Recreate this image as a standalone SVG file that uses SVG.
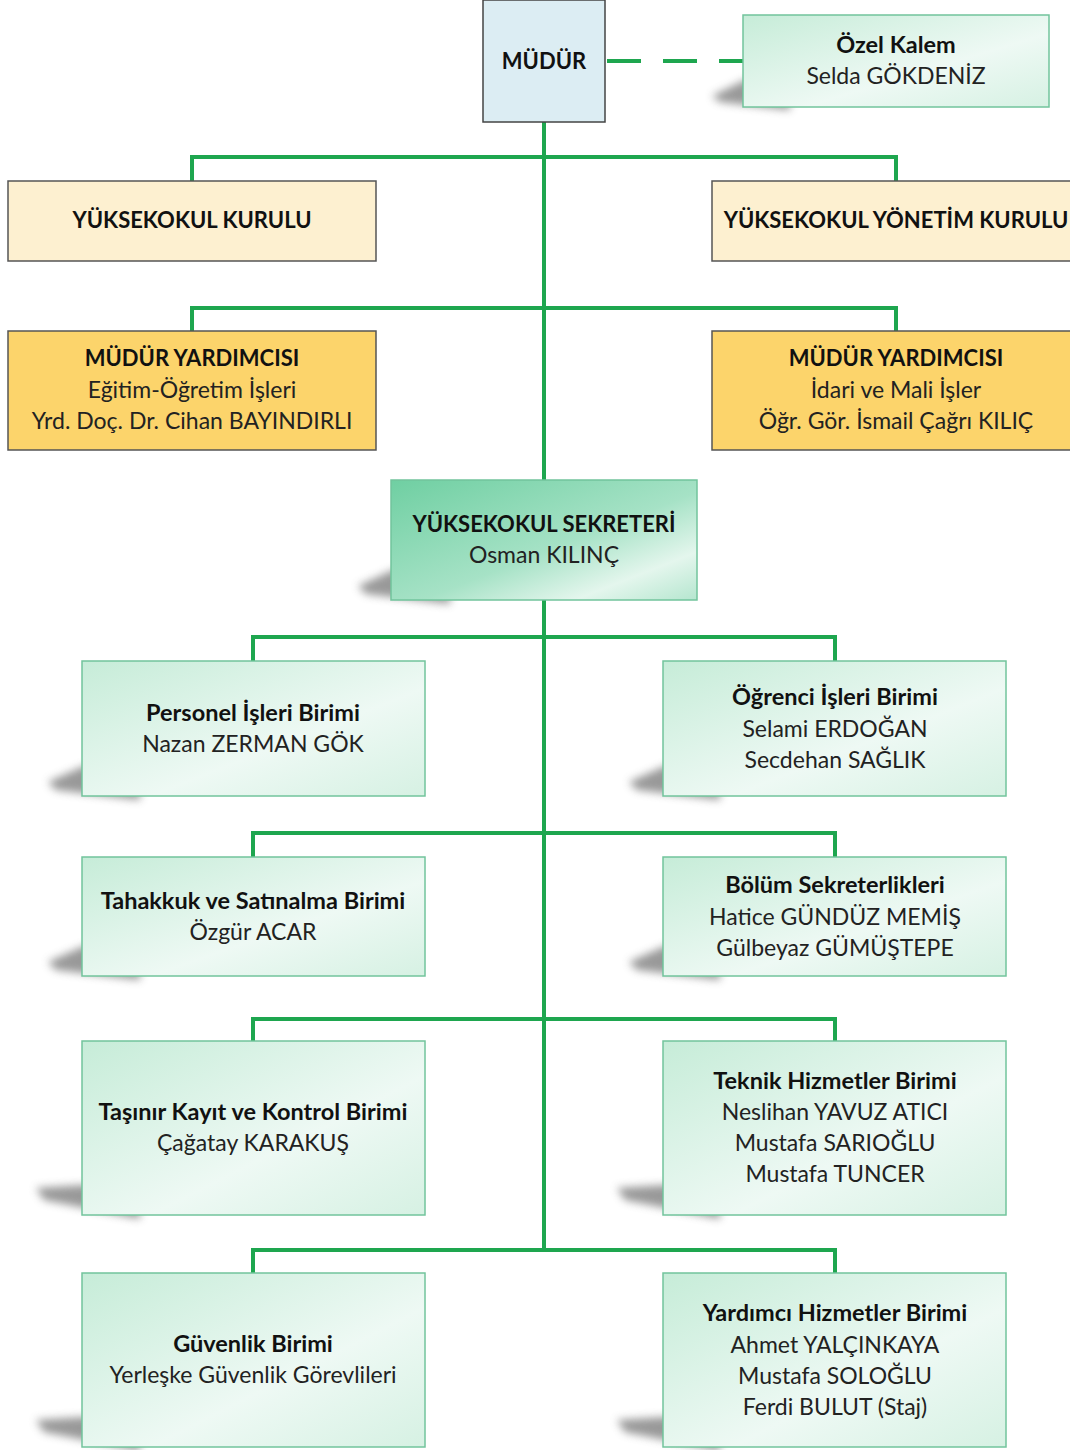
<svg xmlns="http://www.w3.org/2000/svg" width="1070" height="1450" viewBox="0 0 1070 1450">
<defs>
<linearGradient id="gl" x1="0" y1="0" x2="1" y2="1">
<stop offset="0" stop-color="#c6ecd8"/>
<stop offset="0.6" stop-color="#eef9f4"/>
<stop offset="1" stop-color="#d6f1e3"/>
</linearGradient>
<linearGradient id="gs" x1="0" y1="0" x2="1" y2="1">
<stop offset="0" stop-color="#6fcfa2"/>
<stop offset="0.55" stop-color="#a6e2c6"/>
<stop offset="0.8" stop-color="#e4f6ed"/>
<stop offset="1" stop-color="#b5e6cf"/>
</linearGradient>
<filter id="blur" x="-50%" y="-50%" width="200%" height="200%">
<feGaussianBlur stdDeviation="4"/>
</filter>
<style>
.t{font-family:"Lato","Open Sans","Liberation Sans",sans-serif;font-size:23px;fill:#222;text-anchor:middle}
.b{font-weight:bold;fill:#111;font-size:23.5px}
.k{font-weight:bold;fill:#111;font-size:22px}
.g{fill:url(#gl);stroke:#72c49c;stroke-width:1.5}
.s{fill:url(#gs);stroke:#72c49c;stroke-width:1.5}
.y1{fill:#fdf0d0;stroke:#555;stroke-width:1.5}
.y2{fill:#fcd46b;stroke:#555;stroke-width:1.5}
.sh{fill:#777;opacity:0.75;filter:url(#blur)}
.c{fill:none;stroke:#1ea64f;stroke-width:4}
</style>
</defs>
<g id="connectors">
<path class="c" d="M544 122V1250"/>
<path class="c" d="M192 181V157H896V181"/>
<path class="c" d="M192 331V308H896V331"/>
<path class="c" d="M253 661V637H835V661"/>
<path class="c" d="M253 857V833H835V857"/>
<path class="c" d="M253 1041V1019H835V1041"/>
<path class="c" d="M253 1273V1250H835V1273"/>
<path class="c" d="M605 61H743" stroke-dasharray="34,22" stroke-dashoffset="-2"/>
</g>
<g id="n-mudur">
<rect x="483" y="0" width="122" height="122" fill="#dcedf3" stroke="#444" stroke-width="1.5"/>
<text class="t k" x="544" y="69">MÜDÜR</text>
</g>
<g id="n-ozel">
<polygon class="sh" points="790,80 745,80 712,96 720,102 790,110"/>
<rect class="g" x="743" y="15" width="306" height="92"/>
<text class="t b" x="896" y="53">Özel Kalem</text>
<text class="t" x="896" y="84">Selda GÖKDENİZ</text>
</g>
<g id="n-kurul">
<rect class="y1" x="8" y="181" width="368" height="80"/>
<text class="t k" x="192" y="228">YÜKSEKOKUL KURULU</text>
</g>
<g id="n-yonetim">
<rect class="y1" x="712" y="181" width="366" height="80"/>
<text class="t k" x="896" y="228">YÜKSEKOKUL YÖNETİM KURULU</text>
</g>
<g id="n-my1">
<rect class="y2" x="8" y="331" width="368" height="119"/>
<text class="t k" x="192" y="366">MÜDÜR YARDIMCISI</text>
<text class="t" x="192" y="398">Eğitim-Öğretim İşleri</text>
<text class="t" x="192" y="429">Yrd. Doç. Dr. Cihan BAYINDIRLI</text>
</g>
<g id="n-my2">
<rect class="y2" x="712" y="331" width="366" height="119"/>
<text class="t k" x="896" y="366">MÜDÜR YARDIMCISI</text>
<text class="t" x="896" y="398">İdari ve Mali İşler</text>
<text class="t" x="896" y="429">Öğr. Gör. İsmail Çağrı KILIÇ</text>
</g>
<g id="n-sekreter">
<polygon class="sh" points="450,570 393,570 358,586 366,594 450,604"/>
<rect class="s" x="391" y="480" width="306" height="120"/>
<text class="t k" x="544" y="532">YÜKSEKOKUL SEKRETERİ</text>
<text class="t" x="544" y="563">Osman KILINÇ</text>
</g>
<g id="n-personel">
<polygon class="sh" points="140,766 84,766 48,782 56,790 140,800"/>
<rect class="g" x="82" y="661" width="343" height="135"/>
<text class="t b" x="253" y="721">Personel İşleri Birimi</text>
<text class="t" x="253" y="752">Nazan ZERMAN GÖK</text>
</g>
<g id="n-ogrenci">
<polygon class="sh" points="720,766 665,766 629,782 637,790 720,800"/>
<rect class="g" x="663" y="661" width="343" height="135"/>
<text class="t b" x="835" y="705">Öğrenci İşleri Birimi</text>
<text class="t" x="835" y="737">Selami ERDOĞAN</text>
<text class="t" x="835" y="768">Secdehan SAĞLIK</text>
</g>
<g id="n-tahakkuk">
<polygon class="sh" points="140,946 84,946 48,962 56,970 140,980"/>
<rect class="g" x="82" y="857" width="343" height="119"/>
<text class="t b" x="253" y="909">Tahakkuk ve Satınalma Birimi</text>
<text class="t" x="253" y="940">Özgür ACAR</text>
</g>
<g id="n-bolum">
<polygon class="sh" points="720,946 665,946 629,962 637,970 720,980"/>
<rect class="g" x="663" y="857" width="343" height="119"/>
<text class="t b" x="835" y="893">Bölüm Sekreterlikleri</text>
<text class="t" x="835" y="925">Hatice GÜNDÜZ MEMİŞ</text>
<text class="t" x="835" y="956">Gülbeyaz GÜMÜŞTEPE</text>
</g>
<g id="n-tasinir">
<polygon class="sh" points="140,1185 84,1185 36,1188 44,1200 140,1219"/>
<rect class="g" x="82" y="1041" width="343" height="174"/>
<text class="t b" x="253" y="1120">Taşınır Kayıt ve Kontrol Birimi</text>
<text class="t" x="253" y="1151">Çağatay KARAKUŞ</text>
</g>
<g id="n-teknik">
<polygon class="sh" points="720,1185 665,1185 617,1188 625,1200 720,1219"/>
<rect class="g" x="663" y="1041" width="343" height="174"/>
<text class="t b" x="835" y="1089">Teknik Hizmetler Birimi</text>
<text class="t" x="835" y="1120">Neslihan YAVUZ ATICI</text>
<text class="t" x="835" y="1151">Mustafa SARIOĞLU</text>
<text class="t" x="835" y="1182">Mustafa TUNCER</text>
</g>
<g id="n-guvenlik">
<polygon class="sh" points="140,1417 84,1417 36,1420 44,1432 140,1451"/>
<rect class="g" x="82" y="1273" width="343" height="174"/>
<text class="t b" x="253" y="1352">Güvenlik Birimi</text>
<text class="t" x="253" y="1383">Yerleşke Güvenlik Görevlileri</text>
</g>
<g id="n-yardimci">
<polygon class="sh" points="720,1417 665,1417 617,1420 625,1432 720,1451"/>
<rect class="g" x="663" y="1273" width="343" height="174"/>
<text class="t b" x="835" y="1321">Yardımcı Hizmetler Birimi</text>
<text class="t" x="835" y="1353">Ahmet YALÇINKAYA</text>
<text class="t" x="835" y="1384">Mustafa SOLOĞLU</text>
<text class="t" x="835" y="1415">Ferdi BULUT (Staj)</text>
</g>
</svg>
